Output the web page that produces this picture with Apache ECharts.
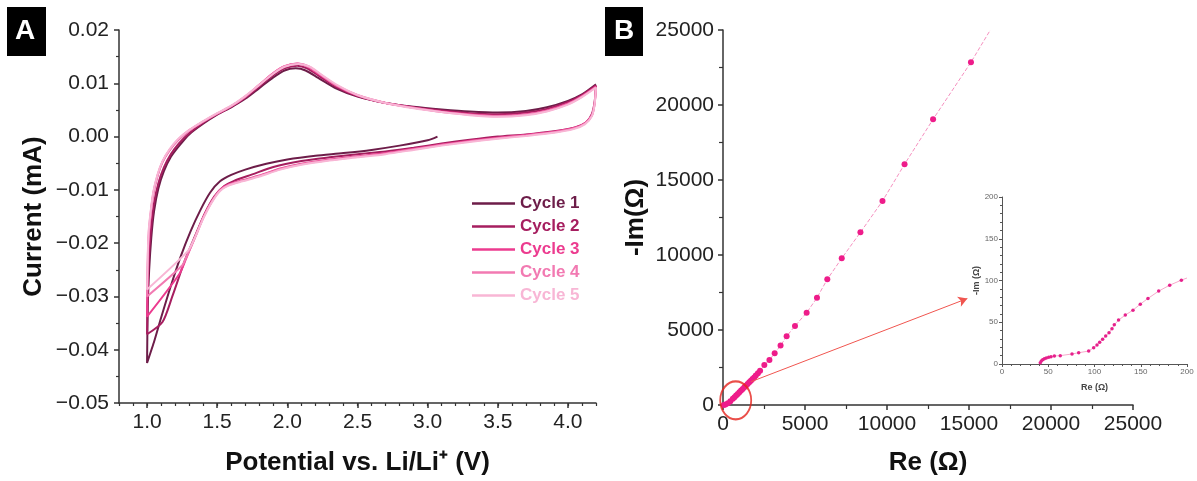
<!DOCTYPE html>
<html>
<head>
<meta charset="utf-8">
<script src="https://cdn.jsdelivr.net/npm/echarts@6/dist/echarts.min.js"></script>
<style>
  html, body { margin: 0; padding: 0; background: #fff; }
  #chart { width: 1197px; height: 481px; }
</style>
</head>
<body>
<div id="chart"></div>
<script>
// ---- data: panel A, cyclic voltammetry [potential V, current mA] ----
var cycleNames = ["Cycle 1", "Cycle 2", "Cycle 3", "Cycle 4", "Cycle 5"];
var cycleColors = ["#6d1d49", "#a61e5f", "#ec3b8f", "#f27ab2", "#f8b6d5"];

var cycle1 = [
  [3.07, 0.0000], [3.0, -0.0007], [2.8, -0.0017], [2.6, -0.0025], [2.4, -0.0031], [2.2, -0.0036],
  [2.0, -0.0043], [1.85, -0.0051], [1.7, -0.0062], [1.6, -0.0072], [1.52, -0.0084], [1.45, -0.0105],
  [1.38, -0.0138], [1.31, -0.0178], [1.24, -0.0225], [1.17, -0.0280], [1.1, -0.0340], [1.05, -0.0385],
  [1.0, -0.0425],
  [1.005, -0.032], [1.015, -0.025], [1.03, -0.0190], [1.05, -0.0140], [1.08, -0.0098], [1.12, -0.0065],
  [1.17, -0.0038], [1.23, -0.0017], [1.3, 0.0004], [1.4, 0.0024], [1.5, 0.0041], [1.6, 0.0055],
  [1.7, 0.0071], [1.8, 0.0091], [1.9, 0.0111], [1.98, 0.0124], [2.06, 0.0128], [2.13, 0.0124],
  [2.22, 0.0110], [2.35, 0.0090], [2.5, 0.0075], [2.7, 0.0063], [2.9, 0.0056], [3.1, 0.0051],
  [3.3, 0.0047], [3.5, 0.0045], [3.7, 0.0048], [3.85, 0.0055], [4.0, 0.0067], [4.1, 0.0079], [4.2, 0.0098]
];
var cycle2 = [
  [4.2, 0.0096], [4.19, 0.0065], [4.17, 0.0042], [4.13, 0.0027], [4.05, 0.0017], [3.9, 0.0010],
  [3.7, 0.0004], [3.5, 0.0000], [3.3, -0.0006], [3.1, -0.0013], [2.9, -0.0021], [2.7, -0.0028],
  [2.5, -0.0033], [2.3, -0.0039], [2.1, -0.0046], [1.9, -0.0057], [1.75, -0.0071], [1.62, -0.0083],
  [1.55, -0.0093], [1.48, -0.0112], [1.41, -0.0145], [1.34, -0.0188], [1.27, -0.0232], [1.18, -0.0300],
  [1.11, -0.0348], [1.0, -0.0371],
  [1.005, -0.028], [1.015, -0.022], [1.03, -0.0170], [1.05, -0.0125], [1.08, -0.0088], [1.12, -0.0058],
  [1.17, -0.0033], [1.23, -0.0012], [1.3, 0.0006], [1.4, 0.0026], [1.5, 0.0042], [1.6, 0.0056],
  [1.7, 0.0073], [1.8, 0.0094], [1.9, 0.0115], [1.98, 0.0128], [2.07, 0.0133], [2.14, 0.0128],
  [2.23, 0.0113], [2.35, 0.0093], [2.5, 0.0076], [2.7, 0.0063], [2.9, 0.0055], [3.1, 0.0049],
  [3.3, 0.0044], [3.5, 0.0042], [3.7, 0.0045], [3.85, 0.0052], [4.0, 0.0065], [4.1, 0.0078], [4.2, 0.0096]
];
var cycle3 = [
  [4.2, 0.0094], [4.19, 0.0062], [4.17, 0.0040], [4.12, 0.0025], [4.04, 0.0016], [3.9, 0.0009],
  [3.7, 0.0003], [3.5, -0.0002], [3.3, -0.0008], [3.1, -0.0015], [2.9, -0.0023], [2.7, -0.0031],
  [2.5, -0.0037], [2.3, -0.0043], [2.1, -0.0051], [1.95, -0.0060], [1.8, -0.0073], [1.68, -0.0082],
  [1.58, -0.0090], [1.52, -0.0100], [1.46, -0.0122], [1.4, -0.0152], [1.34, -0.0190], [1.28, -0.0228],
  [1.23, -0.0258], [1.0, -0.0338],
  [1.005, -0.025], [1.012, -0.019], [1.025, -0.0150], [1.045, -0.0108], [1.075, -0.0074], [1.11, -0.0048],
  [1.16, -0.0026], [1.22, -0.0007], [1.3, 0.0011], [1.4, 0.0028], [1.5, 0.0043], [1.6, 0.0057],
  [1.7, 0.0075], [1.8, 0.0097], [1.9, 0.0119], [1.98, 0.0132], [2.07, 0.0137], [2.14, 0.0132],
  [2.23, 0.0116], [2.35, 0.0095], [2.5, 0.0077], [2.7, 0.0063], [2.9, 0.0054], [3.1, 0.0047],
  [3.3, 0.0042], [3.5, 0.0039], [3.7, 0.0042], [3.85, 0.0049], [4.0, 0.0062], [4.1, 0.0076], [4.2, 0.0094]
];
var cycle4 = [
  [4.2, 0.0093], [4.19, 0.0061], [4.17, 0.0039], [4.12, 0.0024], [4.04, 0.0015], [3.9, 0.0008],
  [3.7, 0.0002], [3.5, -0.0003], [3.3, -0.0009], [3.1, -0.0016], [2.9, -0.0024], [2.7, -0.0032],
  [2.5, -0.0038], [2.3, -0.0044], [2.1, -0.0052], [1.95, -0.0061], [1.8, -0.0074], [1.68, -0.0083],
  [1.58, -0.0091], [1.52, -0.0101], [1.46, -0.0123], [1.4, -0.0153], [1.34, -0.0191], [1.28, -0.0226],
  [1.25, -0.0242], [1.0, -0.0300],
  [1.005, -0.023], [1.012, -0.018], [1.025, -0.0145], [1.045, -0.0105], [1.075, -0.0072], [1.11, -0.0047],
  [1.16, -0.0025], [1.22, -0.0006], [1.3, 0.0012], [1.4, 0.0028], [1.5, 0.0043], [1.6, 0.0057],
  [1.7, 0.0075], [1.8, 0.0097], [1.9, 0.0119], [1.98, 0.0132], [2.08, 0.0137], [2.15, 0.0132],
  [2.24, 0.0116], [2.35, 0.0096], [2.5, 0.0078], [2.7, 0.0063], [2.9, 0.0054], [3.1, 0.0046],
  [3.3, 0.0041], [3.5, 0.0038], [3.7, 0.0041], [3.85, 0.0048], [4.0, 0.0061], [4.1, 0.0075], [4.2, 0.0093]
];
var cycle5 = [
  [4.2, 0.0092], [4.19, 0.0060], [4.17, 0.0038], [4.12, 0.0023], [4.04, 0.0014], [3.9, 0.0007],
  [3.7, 0.0001], [3.5, -0.0004], [3.3, -0.0010], [3.1, -0.0017], [2.9, -0.0025], [2.7, -0.0033],
  [2.5, -0.0039], [2.3, -0.0045], [2.1, -0.0053], [1.95, -0.0062], [1.8, -0.0075], [1.68, -0.0084],
  [1.58, -0.0092], [1.52, -0.0102], [1.46, -0.0124], [1.4, -0.0154], [1.34, -0.0190], [1.29, -0.0215],
  [1.0, -0.0287],
  [1.005, -0.022], [1.012, -0.0175], [1.025, -0.0142], [1.045, -0.0103], [1.075, -0.0071], [1.11, -0.0046],
  [1.16, -0.0024], [1.22, -0.0005], [1.3, 0.0012], [1.4, 0.0029], [1.5, 0.0044], [1.6, 0.0058],
  [1.7, 0.0076], [1.8, 0.0097], [1.9, 0.0118], [1.98, 0.0131], [2.08, 0.0136], [2.16, 0.0131],
  [2.25, 0.0115], [2.36, 0.0096], [2.5, 0.0078], [2.7, 0.0063], [2.9, 0.0053], [3.1, 0.0046],
  [3.3, 0.0040], [3.5, 0.0037], [3.7, 0.0040], [3.85, 0.0047], [4.0, 0.0060], [4.1, 0.0074], [4.2, 0.0092]
];
var cycles = [cycle1, cycle2, cycle3, cycle4, cycle5];

// ---- data: panel B, Nyquist plot [Re ohm, -Im ohm] ----
var nyquistMain = [
  [45, 3], [150, 40], [300, 120], [450, 250], [600, 420], [700, 520], [800, 630], [900, 740],
  [1000, 850], [1100, 960], [1200, 1070], [1300, 1180], [1400, 1290], [1500, 1400], [1600, 1510],
  [1700, 1620], [1800, 1730], [1900, 1840], [2000, 1960], [2130, 2120], [2260, 2290], [2520, 2670],
  [2830, 3000], [3150, 3450], [3510, 3960], [3880, 4580], [4390, 5270], [5100, 6150], [5730, 7150],
  [6360, 8380], [7240, 9780], [8380, 11510], [9725, 13600], [11070, 16050], [12810, 19050], [15120, 22850]
];
var nyquistMainEnd = [16300, 25000];
var nyquistInset = [
  [41.4, 1.6], [42.5, 3.6], [44, 5.2], [45.8, 6.4], [47.9, 7.2], [50.5, 8.0], [53, 8.8], [56.6, 9.6],
  [63, 10], [75.7, 12], [82.9, 13.5], [93.7, 15.5], [99.1, 19.5], [102.7, 22.7], [105.6, 25.9],
  [108.8, 29.5], [112.1, 33.5], [115.7, 37.5], [118.9, 42.2], [121.4, 47], [126, 52.6], [133.3, 58.6],
  [141.6, 64.5], [149.5, 71.7], [157.8, 78.5], [169.4, 87.3], [181.3, 94.4], [193.9, 100.4]
];
var nyquistInsetEnd = [200, 103];
var zoomCircle = [[775, 313]];
var zoomArrow = [[1700, 1550], [14900, 7100]];

var FONT = "'Liberation Sans', Arial, sans-serif";

(function () {
  var myChart = echarts.init(document.getElementById("chart"));

  function minus(s) { return s.replace("-", "\u2212"); }
  function plain(v) { return String(v); }

  var axisLineStyle = { color: "#333", width: 1.5 };
  var labelStyle = { color: "#222", fontSize: 21, fontFamily: FONT };
  var nameStyle = { color: "#111", fontSize: 26, fontWeight: "bold", fontFamily: FONT };
  var insetLine = { color: "#555", width: 1 };
  var insetLabel = { color: "#666", fontSize: 8, fontFamily: FONT, margin: 4, formatter: plain };

  var series = cycles.map(function (d, i) {
    return {
      name: cycleNames[i],
      type: "line",
      xAxisIndex: 0,
      yAxisIndex: 0,
      data: d,
      showSymbol: false,
      smooth: 0.25,
      lineStyle: { color: cycleColors[i], width: 2 },
      itemStyle: { color: cycleColors[i] }
    };
  });

  // 主图 Nyquist
  series.push({
    name: "EIS",
    type: "line",
    xAxisIndex: 2,
    yAxisIndex: 1,
    data: nyquistMain.concat([{ value: nyquistMainEnd, symbol: "none", symbolSize: 0 }]),
    symbol: "circle",
    symbolSize: 6,
    itemStyle: { color: "#ee1c8a" },
    lineStyle: { color: "#f590bf", width: 1, type: "dashed" },
    markLine: {
      silent: true,
      symbol: ["none", "arrow"],
      symbolSize: [8, 9],
      label: { show: false },
      lineStyle: { color: "#f0554f", width: 1, type: "solid" },
      data: [[{ coord: zoomArrow[0] }, { coord: zoomArrow[1] }]]
    },
    z: 3
  });
  // 红色圆圈
  series.push({
    name: "circle",
    type: "scatter",
    xAxisIndex: 2,
    yAxisIndex: 1,
    data: zoomCircle,
    symbol: "circle",
    symbolSize: [31, 38],
    itemStyle: { color: "rgba(0,0,0,0)", borderColor: "#e5231d", borderWidth: 2 },
    z: 4
  });
  // 插图
  series.push({
    name: "inset",
    type: "line",
    xAxisIndex: 3,
    yAxisIndex: 2,
    data: nyquistInset.concat([{ value: nyquistInsetEnd, symbol: "none", symbolSize: 0 }]),
    symbol: "circle",
    symbolSize: 3.5,
    itemStyle: { color: "#e6218c" },
    lineStyle: { color: "#f7a9cb", width: 1 }
  });

  var option = {
    animation: false,
    textStyle: { fontFamily: FONT },
    grid: [
      { left: 119, right: 601, top: 30, bottom: 78 },
      { left: 723, right: 64, top: 30, bottom: 76 },
      { left: 1002, right: 10, top: 197, bottom: 117 }
    ],
    legend: {
      orient: "vertical",
      left: 467,
      top: 190,
      itemWidth: 43,
      itemHeight: 2.5,
      itemGap: 6,
      icon: "rect",
      textStyle: { fontSize: 17, fontWeight: "bold", fontFamily: FONT, lineHeight: 17 },
      data: cycleNames.map(function (n, i) {
        return { name: n, textStyle: { color: cycleColors[i] } };
      })
    },
    xAxis: [
      {
        type: "value", gridIndex: 0, min: 0.8, max: 4.2, splitNumber: 7,
        name: "Potential vs. Li/Li\u207A (V)", nameLocation: "middle", nameGap: 47,
        nameTextStyle: nameStyle,
        axisLine: { onZero: false, lineStyle: axisLineStyle },
        axisTick: { length: 5, lineStyle: axisLineStyle },
        axisLabel: Object.assign({ margin: 9, showMinLabel: false, showMaxLabel: false,
          formatter: function (v) { return v.toFixed(1); } }, labelStyle),
        splitLine: { show: false }
      },
      {
        // 次刻度 0.1 V
        type: "value", gridIndex: 0, min: 0.8, max: 4.2, interval: 0.1, position: "bottom",
        axisLine: { show: false, onZero: false },
        axisTick: { length: 3, lineStyle: { color: "#333", width: 1.2 } },
        axisLabel: { show: false },
        splitLine: { show: false }
      },
      {
        type: "value", gridIndex: 1, min: 0, max: 25000, interval: 5000,
        name: "Re (\u03A9)", nameLocation: "middle", nameGap: 45,
        nameTextStyle: nameStyle,
        axisLine: { onZero: false, lineStyle: axisLineStyle },
        axisTick: { length: 5, lineStyle: axisLineStyle },
        minorTick: { show: true, splitNumber: 2, length: 4, lineStyle: { color: "#333", width: 1.2 } },
        axisLabel: Object.assign({ margin: 9, formatter: plain }, labelStyle),
        splitLine: { show: false }
      },
      {
        type: "value", gridIndex: 2, min: 0, max: 200, interval: 50,
        name: "Re (\u03A9)", nameLocation: "middle", nameGap: 19,
        nameTextStyle: { color: "#444", fontSize: 9, fontWeight: "bold", fontFamily: FONT },
        axisLine: { onZero: false, lineStyle: insetLine },
        axisTick: { length: 3, lineStyle: insetLine },
        minorTick: { show: true, splitNumber: 5, length: 2, lineStyle: insetLine },
        axisLabel: insetLabel,
        splitLine: { show: false }
      }
    ],
    yAxis: [
      {
        type: "value", gridIndex: 0, min: -0.05, max: 0.02, interval: 0.01,
        name: "Current (mA)", nameLocation: "middle", nameGap: 72,
        nameTextStyle: nameStyle,
        axisLine: { show: true, onZero: false, lineStyle: axisLineStyle },
        axisTick: { show: true, length: 5, lineStyle: axisLineStyle },
        minorTick: { show: true, splitNumber: 2, length: 3, lineStyle: { color: "#333", width: 1.2 } },
        axisLabel: Object.assign({ margin: 10,
          formatter: function (v) { return minus(v.toFixed(2)); } }, labelStyle),
        splitLine: { show: false }
      },
      {
        type: "value", gridIndex: 1, min: 0, max: 25000, interval: 5000,
        name: "-Im(\u03A9)", nameLocation: "middle", nameGap: 74,
        nameTextStyle: nameStyle,
        axisLine: { show: true, onZero: false, lineStyle: axisLineStyle },
        axisTick: { show: true, length: 5, lineStyle: axisLineStyle },
        minorTick: { show: true, splitNumber: 2, length: 4, lineStyle: { color: "#333", width: 1.2 } },
        axisLabel: Object.assign({ margin: 9, formatter: plain }, labelStyle),
        splitLine: { show: false }
      },
      {
        type: "value", gridIndex: 2, min: 0, max: 200, interval: 50,
        name: "-Im (\u03A9)", nameLocation: "middle", nameGap: 20,
        nameTextStyle: { color: "#444", fontSize: 9, fontWeight: "bold", fontFamily: FONT },
        axisLine: { show: true, onZero: false, lineStyle: insetLine },
        axisTick: { show: true, length: 3, lineStyle: insetLine },
        minorTick: { show: true, splitNumber: 5, length: 2, lineStyle: insetLine },
        axisLabel: insetLabel,
        splitLine: { show: false }
      }
    ],
    // 面板标签 A / B
    graphic: [
      { type: "rect", left: 7, top: 7, shape: { width: 39, height: 49 }, style: { fill: "#000" } },
      { type: "text", left: 15, top: 17, style: { text: "A", fill: "#fff", font: "bold 28px " + FONT } },
      { type: "rect", left: 605, top: 7, shape: { width: 38, height: 49 }, style: { fill: "#000" } },
      { type: "text", left: 614, top: 17, style: { text: "B", fill: "#fff", font: "bold 28px " + FONT } }
    ],
    series: series
  };

  myChart.setOption(option);
})();
</script>
</body>
</html>
